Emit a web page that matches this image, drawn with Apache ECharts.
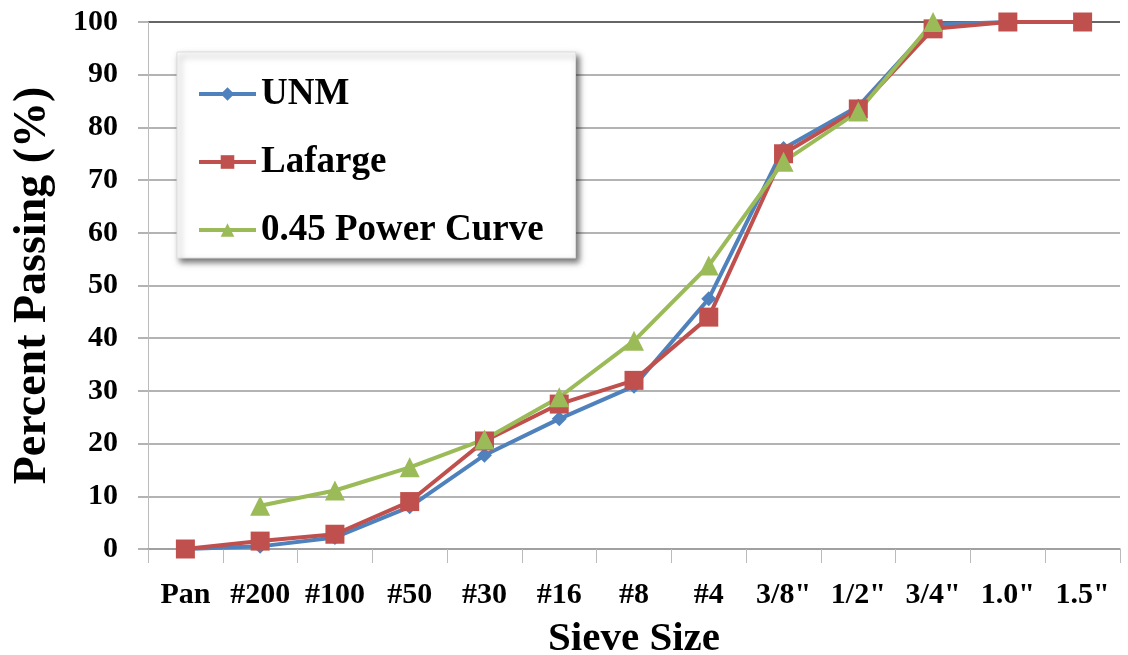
<!DOCTYPE html>
<html>
<head>
<meta charset="utf-8">
<title>Sieve Analysis</title>
<script src="https://cdn.jsdelivr.net/npm/echarts@6/dist/echarts.min.js"></script>
<style>
  html, body { margin: 0; padding: 0; background: #fff; }
  #chart-container { width: 1128px; height: 655px; }
</style>
</head>
<body>
<div id="chart-container"></div>
<script>
// Sieve sizes along the x axis
const sieveSizes = ['Pan', '#200', '#100', '#50', '#30', '#16', '#8', '#4', '3/8"', '1/2"', '3/4"', '1.0"', '1.5"'];

// Percent passing for each gradation
const unmPassing = [0, 0.5, 2.2, 8, 17.8, 24.7, 30.9, 47.5, 76, 84, 99.5, 100, 100];
const lafargePassing = [0, 1.5, 2.8, 9, 20.5, 27.5, 32, 44, 75, 83.5, 98.7, 100, 100];
const powerCurve = [null, 8.2, 11.1, 15.5, 20.8, 28.8, 39.5, 53.8, 73.5, 83, 100, null, null];

const yTicks = { min: 0, max: 100, interval: 10 };

const serif = '"Liberation Serif", "DejaVu Serif", serif';

let chartContainer = document.getElementById('chart-container');
const myChart = echarts.init(chartContainer, null, { renderer: 'canvas' });

// gridlines are gray except the top one, which is dark
const gridColors = [];
for (let i = 0; i <= 10; i++) {
  gridColors.push(i === 10 ? '#333' : '#9a9a9a');
}

myChart.setOption({
  animation: false,
  backgroundColor: '#fff',
  color: ['#4f81bd', '#c0504d', '#9bbb59'],
  grid: {
    left: 148,
    right: 8,
    top: 22,
    bottom: 106,
    containLabel: false,
    outerBoundsMode: 'none'
  },
  legend: {
    orient: 'vertical',
    left: 177,
    top: 52,
    padding: [22, 32, 8, 20],
    itemGap: 28,
    itemWidth: 57,
    itemHeight: 17,
    backgroundColor: '#fff',
    borderColor: '#ddd',
    borderWidth: 1,
    shadowColor: 'rgba(0,0,0,0.55)',
    shadowBlur: 6,
    shadowOffsetX: 3,
    shadowOffsetY: 4,
    lineStyle: { width: 4 },
    textStyle: {
      fontFamily: serif,
      fontWeight: 'bold',
      fontSize: 37,
      lineHeight: 40,
      color: '#000'
    },
    data: ['UNM', 'Lafarge', '0.45 Power Curve']
  },
  xAxis: {
    type: 'category',
    data: sieveSizes,
    boundaryGap: true,
    name: 'Sieve Size',
    nameLocation: 'middle',
    nameGap: 70,
    nameTextStyle: {
      fontFamily: serif,
      fontWeight: 'bold',
      fontSize: 41,
      color: '#000'
    },
    axisLine: { lineStyle: { color: '#9a9a9a', width: 1.5 } },
    axisTick: { show: true, length: 14, lineStyle: { color: '#bbb' } },
    axisLabel: {
      interval: 0,
      margin: 31,
      fontFamily: serif,
      fontWeight: 'bold',
      fontSize: 30,
      color: '#000'
    }
  },
  yAxis: {
    type: 'value',
    min: yTicks.min,
    max: yTicks.max,
    interval: yTicks.interval,
    name: 'Percent Passing (%)',
    nameLocation: 'middle',
    nameGap: 92,
    nameTextStyle: {
      fontFamily: serif,
      fontWeight: 'bold',
      fontSize: 46,
      color: '#000'
    },
    axisLine: { show: true, lineStyle: { color: '#bbb', width: 1 } },
    axisTick: { show: true, length: 10, lineStyle: { color: '#9a9a9a', width: 1.5 } },
    axisLabel: {
      margin: 30,
      fontFamily: serif,
      fontWeight: 'bold',
      fontSize: 30,
      color: '#000'
    },
    splitLine: { lineStyle: { color: gridColors, width: 1.5 } }
  },
  series: [
    {
      name: 'UNM',
      type: 'line',
      data: unmPassing,
      symbol: 'diamond',
      symbolSize: 15,
      lineStyle: { width: 4 }
    },
    {
      name: 'Lafarge',
      type: 'line',
      data: lafargePassing,
      symbol: 'rect',
      symbolSize: 19,
      lineStyle: { width: 4 }
    },
    {
      name: '0.45 Power Curve',
      type: 'line',
      data: powerCurve,
      symbol: 'triangle',
      symbolSize: 20,
      lineStyle: { width: 4 }
    }
  ]
});
</script>
</body>
</html>
